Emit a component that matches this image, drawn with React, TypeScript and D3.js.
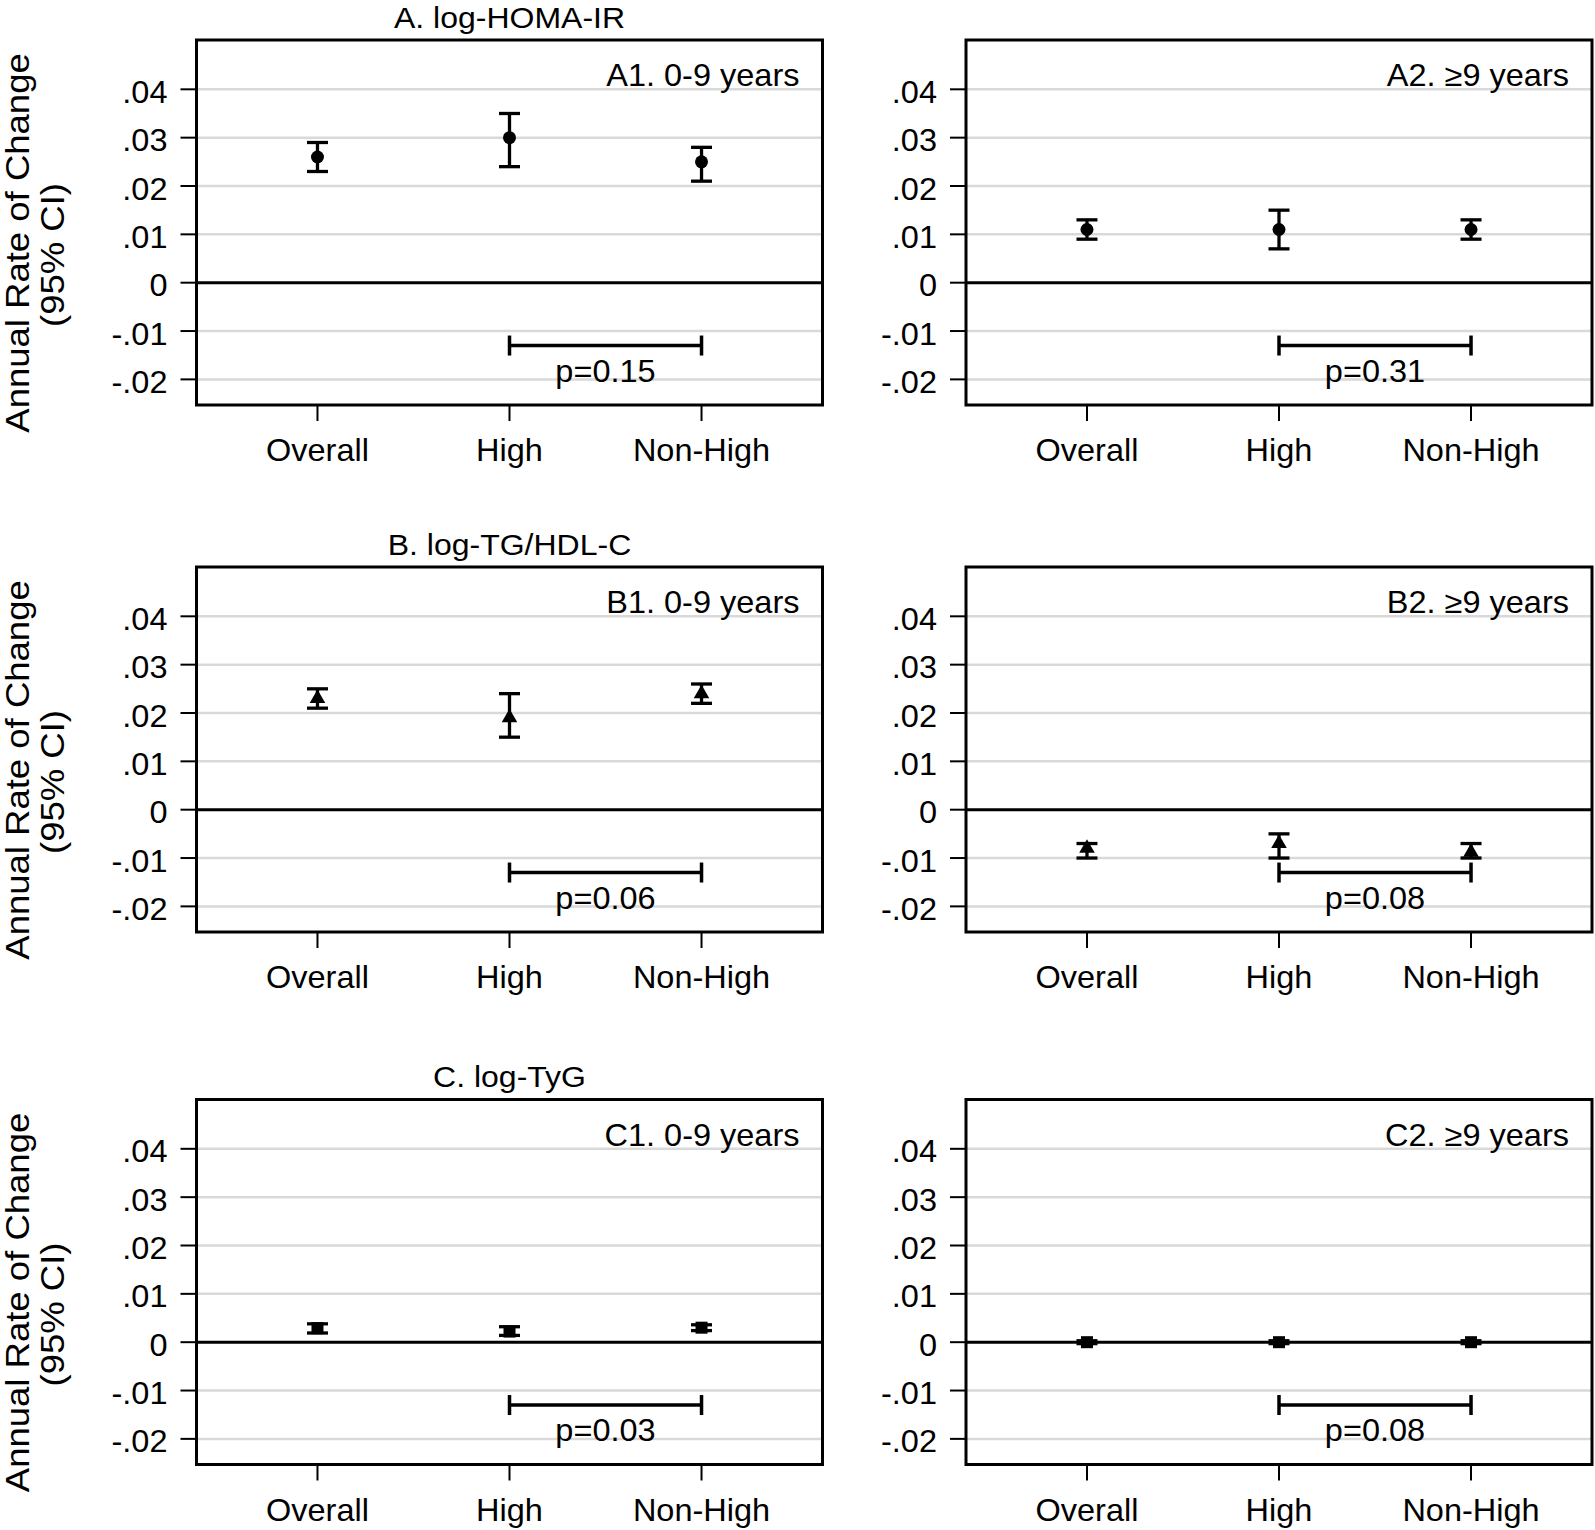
import React, { useRef, useEffect } from "react";
import * as d3 from "d3";

// categories and axis ticks
const groups = ["Overall", "High", "Non-High"];
const yTicks = [0.04, 0.03, 0.02, 0.01, 0, -0.01, -0.02];
const yTickLabels = [".04", ".03", ".02", ".01", "0", "-.01", "-.02"];
const yDomain = [-0.0253, 0.0502];

const rowTitles = ["A. log-HOMA-IR", "B. log-TG/HDL-C", "C. log-TyG"];
const panelLabels = [
  ["A1. 0-9 years", "A2. \u22659 years"],
  ["B1. 0-9 years", "B2. \u22659 years"],
  ["C1. 0-9 years", "C2. \u22659 years"],
];
const markers = ["circle", "triangle", "square"];

// estimates and 95% CI (Overall, High, Non-High)
const estA1 = [0.026, 0.030, 0.025];
const lowA1 = [0.023, 0.024, 0.021];
const upA1 = [0.029, 0.035, 0.028];
const estA2 = [0.011, 0.011, 0.011];
const lowA2 = [0.009, 0.007, 0.009];
const upA2 = [0.013, 0.015, 0.013];

const estB1 = [0.023, 0.019, 0.024];
const lowB1 = [0.021, 0.015, 0.022];
const upB1 = [0.025, 0.024, 0.026];
const estB2 = [-0.008, -0.007, -0.0088];
const lowB2 = [-0.010, -0.010, -0.010];
const upB2 = [-0.007, -0.005, -0.007];

const estC1 = [0.0029, 0.0022, 0.003];
const lowC1 = [0.0019, 0.0014, 0.0024];
const upC1 = [0.0038, 0.0032, 0.0036];
const estC2 = [0, 0, 0];
const lowC2 = [-0.0003, -0.0003, -0.0003];
const upC2 = [0.0003, 0.0003, 0.0003];

const pValues = [
  ["p=0.15", "p=0.31"],
  ["p=0.06", "p=0.08"],
  ["p=0.03", "p=0.08"],
];
const bracketValue = -0.013;
const pTextValue = -0.0205;

const panelData = [
  [
    { est: estA1, low: lowA1, up: upA1 },
    { est: estA2, low: lowA2, up: upA2 },
  ],
  [
    { est: estB1, low: lowB1, up: upB1 },
    { est: estB2, low: lowB2, up: upB2 },
  ],
  [
    { est: estC1, low: lowC1, up: upC1 },
    { est: estC2, low: lowC2, up: upC2 },
  ],
];

const W = 1595;
const H = 1530;
const FONT = "'Liberation Sans', Arial, Helvetica, sans-serif";

const App = () => {
  const svgRef = useRef();

  useEffect(() => {
    const svg = d3.select(svgRef.current);
    svg.selectAll("*").remove();

    const colLeft = [196.5, 966];
    const frameW = 626;
    const rowTop = [40, 567, 1099.5];
    const frameH = 365;

    const addText = (g, x, y, txt, size, anchor, rotate = false, sy = 0.95) => {
      g.append("text")
        .attr("transform", `translate(${x},${y})${rotate ? " rotate(-90)" : ""} scale(1,${sy})`)
        .attr("text-anchor", anchor)
        .attr("font-family", FONT)
        .attr("font-size", size)
        .attr("fill", "#000")
        .text(txt);
    };

    rowTitles.forEach((title, r) => {
      const top = rowTop[r];
      const bottom = top + frameH;
      const yScale = d3.scaleLinear().domain(yDomain).range([bottom, top]);

      // y axis title
      const rowG = svg.append("g");
      const midY = (top + bottom + 65) / 2;
      addText(rowG, 29, midY - 12, "Annual Rate of Change", 36.5, "middle", true, 0.9);
      addText(rowG, 64, midY, "(95% CI)", 36.5, "middle", true, 0.9);

      // row title over the left panel
      addText(rowG, colLeft[0] + frameW / 2, top - 12.5, title, 32, "middle");

      colLeft.forEach((left, c) => {
        const right = left + frameW;
        const xScale = d3.scaleLinear().domain([0.37, 3.63]).range([left, right]);
        const g = svg.append("g");
        const d = panelData[r][c];

        // gridlines
        g.selectAll(".grid")
          .data(yTicks.filter((t) => t !== 0))
          .enter()
          .append("line")
          .attr("x1", left)
          .attr("x2", right)
          .attr("y1", (t) => yScale(t))
          .attr("y2", (t) => yScale(t))
          .attr("stroke", "#d9d9d9")
          .attr("stroke-width", 2.5);

        // zero line
        g.append("line")
          .attr("x1", left)
          .attr("x2", right)
          .attr("y1", yScale(0))
          .attr("y2", yScale(0))
          .attr("stroke", "#000")
          .attr("stroke-width", 3);

        // y ticks + labels
        yTicks.forEach((t, i) => {
          g.append("line")
            .attr("x1", left - 16)
            .attr("x2", left)
            .attr("y1", yScale(t))
            .attr("y2", yScale(t))
            .attr("stroke", "#000")
            .attr("stroke-width", 2);
          addText(g, left - 29, yScale(t) + 13.5, yTickLabels[i], 32.5, "end");
        });

        // x ticks + labels
        groups.forEach((name, i) => {
          const x = xScale(i + 1);
          g.append("line")
            .attr("x1", x)
            .attr("x2", x)
            .attr("y1", bottom)
            .attr("y2", bottom + 16)
            .attr("stroke", "#000")
            .attr("stroke-width", 2);
          addText(g, x, bottom + 56, name, 32.5, "middle");
        });

        // panel label
        addText(g, right - 23, yScale(0.04) - 3, panelLabels[r][c], 32.5, "end");

        // comparison bracket
        const bx1 = xScale(2);
        const bx2 = xScale(3);
        const by = yScale(bracketValue);
        const br = g.append("g").attr("stroke", "#000").attr("stroke-width", 3.5);
        br.append("line").attr("x1", bx1).attr("x2", bx2).attr("y1", by).attr("y2", by);
        br.append("line").attr("x1", bx1).attr("x2", bx1).attr("y1", by - 10).attr("y2", by + 10);
        br.append("line").attr("x1", bx2).attr("x2", bx2).attr("y1", by - 10).attr("y2", by + 10);
        addText(g, (bx1 + bx2) / 2, yScale(pTextValue), pValues[r][c], 32.5, "middle");

        // error bars
        groups.forEach((_, i) => {
          const x = xScale(i + 1);
          const eb = g.append("g").attr("stroke", "#000").attr("stroke-width", 3.3);
          eb.append("line").attr("x1", x).attr("x2", x).attr("y1", yScale(d.low[i])).attr("y2", yScale(d.up[i]));
          eb.append("line").attr("x1", x - 10.5).attr("x2", x + 10.5).attr("y1", yScale(d.low[i])).attr("y2", yScale(d.low[i]));
          eb.append("line").attr("x1", x - 10.5).attr("x2", x + 10.5).attr("y1", yScale(d.up[i])).attr("y2", yScale(d.up[i]));

          const y = yScale(d.est[i]);
          if (markers[r] === "circle") {
            g.append("circle").attr("cx", x).attr("cy", y).attr("r", 6.5).attr("fill", "#000");
          } else if (markers[r] === "triangle") {
            g.append("path")
              .attr("d", d3.symbol(d3.symbolTriangle, 105)())
              .attr("transform", `translate(${x},${y})`)
              .attr("fill", "#000");
          } else {
            g.append("rect")
              .attr("x", x - 6)
              .attr("y", y - 6)
              .attr("width", 12)
              .attr("height", 12)
              .attr("fill", "#000");
          }
        });

        // frame
        g.append("rect")
          .attr("x", left)
          .attr("y", top)
          .attr("width", frameW)
          .attr("height", frameH)
          .attr("fill", "none")
          .attr("stroke", "#000")
          .attr("stroke-width", 3);
      });
    });
  }, []);

  return (
    <svg
      ref={svgRef}
      width={W}
      height={H}
      style={{ position: "absolute", left: 0, top: 0, background: "#fff" }}
    />
  );
};

export default App;
